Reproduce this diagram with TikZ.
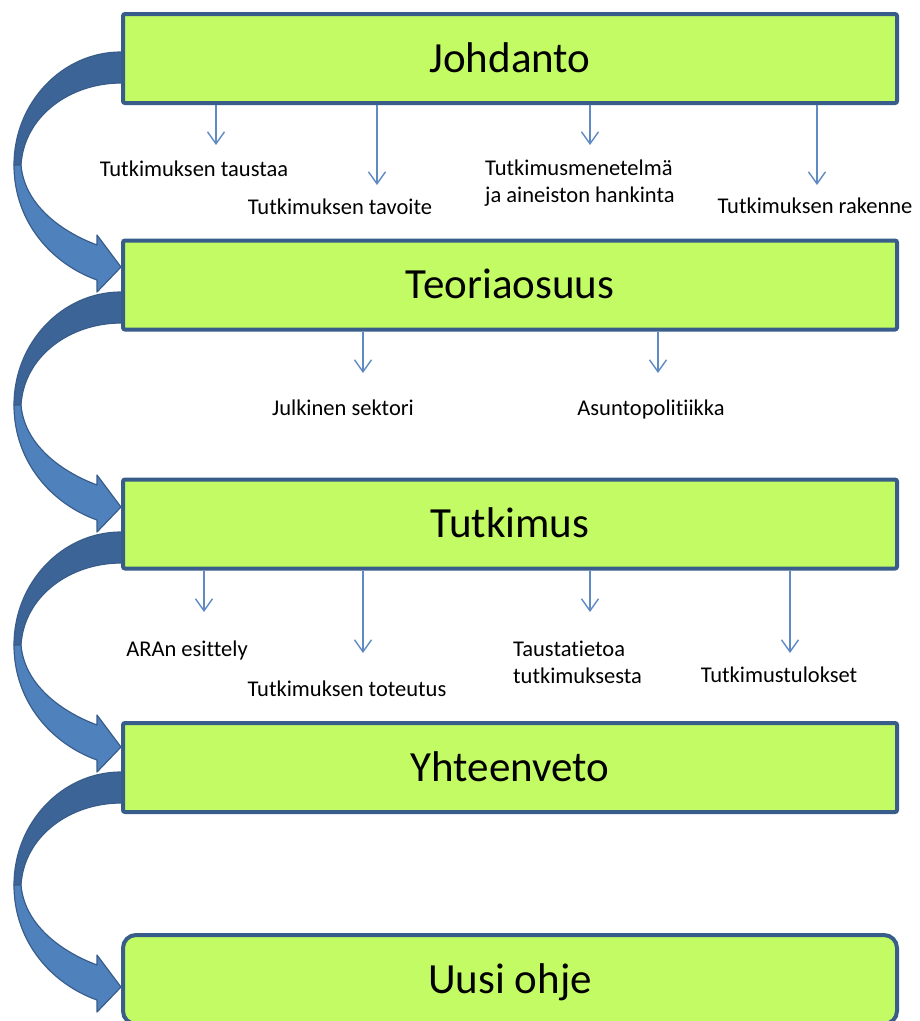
\documentclass[tikz,border=0pt]{standalone}
\usepackage{fontspec}
\setmainfont{Carlito}[Ligatures=NoCommon]
\usetikzlibrary{arrows.meta,calc}
\definecolor{boxgreen}{RGB}{195,251,100}
\definecolor{boxline}{RGB}{56,93,138}
\definecolor{banddark}{RGB}{60,100,150}
\definecolor{bandlight}{RGB}{79,129,189}
\definecolor{thinblue}{RGB}{95,138,196}
\tikzset{
 mainbox/.style={draw=boxline, fill=boxgreen, line width=4pt, minimum width=774pt,
   minimum height=89pt, rounded corners=2pt, inner sep=0pt, outer sep=0pt,
   text height=30pt, text depth=3pt, font=\fontsize{43}{50}\selectfont},
 sublabel/.style={font=\fontsize{22.5}{26.5}\selectfont, inner sep=0pt, align=left},
 thinarr/.style={draw=thinblue, line width=1.4pt,
   -{Straight Barb[length=12pt,width=17pt,line width=1.4pt]}},
 bandback/.style={fill=banddark, draw=boxline, line width=1.2pt, line join=round},
 bandfront/.style={fill=bandlight, draw=boxline, line width=1.2pt, line join=round},
}
\begin{document}
\begin{tikzpicture}[x=1pt,y=-1pt]
\useasboundingbox (0,0) rectangle (920,1021);
\fill[white] (0,0) rectangle (920,1021);

% curved block arrows
\foreach \yo in {52,292,532,772}{
 \begin{scope}[shift={(0,\yo)}]
  \path[bandback] (125,0) -- (121,0) .. controls (62,0) and (14,51) .. (14,113)
     -- (21,113) .. controls (24,64) and (70,31) .. (121,31) -- (125,31) -- cycle;
  \path[bandfront] (14,113) .. controls (14,170) and (52,212) .. (97,228)
     -- (97,240) -- (121,215) -- (97,183) -- (97,193)
     .. controls (57,178) and (24,150) .. (21,113) -- cycle;
 \end{scope}
}

% boxes
\node[mainbox] (j) at (510,58.5) {Johdanto};
\node[mainbox] (t) at (510,285) {Teoriaosuus};
\node[mainbox] (k) at (510,524) {Tutkimus};
\node[mainbox] (y) at (510,767.5) {Yhteenveto};
\node[mainbox, rounded corners=13pt] (u) at (510,979.5) {Uusi ohje};

% arrow ends
\coordinate (j1) at (216,145);
\coordinate (j2) at (377,185);
\coordinate (j3) at (590,145);
\coordinate (j4) at (817,185);
\coordinate (t1) at (363,373);
\coordinate (t2) at (658,373);
\coordinate (k1) at (204,612);
\coordinate (k2) at (363,653);
\coordinate (k3) at (590,612);
\coordinate (k4) at (790,653);

\foreach \c in {j1,j2,j3,j4}{\draw[thinarr] ([yshift=-2pt]\c |- j.south) -- (\c);}
\foreach \c in {t1,t2}{\draw[thinarr] ([yshift=-2pt]\c |- t.south) -- (\c);}
\foreach \c in {k1,k2,k3,k4}{\draw[thinarr] ([yshift=-2pt]\c |- k.south) -- (\c);}

% labels
\node[sublabel, anchor=base] (lj1) at (194,176) {Tutkimuksen taustaa};
\node[sublabel, anchor=base] (lj2) at (340,214) {Tutkimuksen tavoite};
\node[sublabel, anchor=base west] (lj3) at (485,202) {Tutkimusmenetelmä\\ja aineiston hankinta};
\node[sublabel, anchor=base] (lj4) at (815,213) {Tutkimuksen rakenne};
\node[sublabel, anchor=base] (lt1) at (343,415) {Julkinen sektori};
\node[sublabel, anchor=base] (lt2) at (651,415) {Asuntopolitiikka};
\node[sublabel, anchor=base] (lk1) at (187,656) {ARAn esittely};
\node[sublabel, anchor=base] (lk2) at (347,696) {Tutkimuksen toteutus};
\node[sublabel, anchor=base west] (lk3) at (513,683) {Taustatietoa\\tutkimuksesta};
\node[sublabel, anchor=base] (lk4) at (779,682) {Tutkimustulokset};
\end{tikzpicture}
\end{document}
